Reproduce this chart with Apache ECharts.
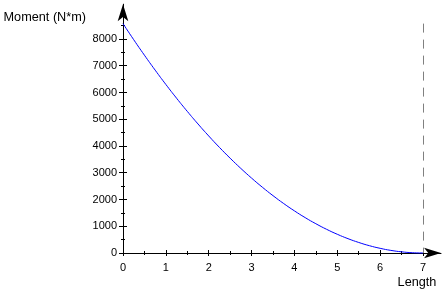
<!DOCTYPE html>
<html><head><meta charset="utf-8">
<script src="https://cdn.jsdelivr.net/npm/echarts@6/dist/echarts.min.js"></script>
<style>html,body{margin:0;padding:0;background:#fff;}#c{width:446px;height:295px;}</style>
</head><body><div id="c"></div>
<script>
const lengthValues = [0,0.25,0.5,0.75,1,1.25,1.5,1.75,2,2.25,2.5,2.75,3,3.25,3.5,3.75,4,4.25,4.5,4.75,5,5.25,5.5,5.75,6,6.25,6.5,6.75,7];
const momentValues = [8575,7973,7394,6836,6300,5786,5294,4823,4375,3948,3544,3161,2800,2461,2144,1848,1575,1323,1094,886,700,536,394,273,175,98,44,11,0];
const xTickLabels = [0,1,2,3,4,5,6,7];
const yTickLabels = [0,1000,2000,3000,4000,5000,6000,7000,8000];
const endMarkerX = 7;
const endMarkerTop = 8575;

const font = 'Arial, "Liberation Sans", sans-serif';
const black = '#000';
const chart = echarts.init(document.getElementById('c'));

function xAx(inside, main){
  return {
    type:'value', gridIndex:0, min:0, max:7.42, interval:1, position:'bottom',
    axisLine:{show:main, onZero:false, symbol:['none','arrow'], symbolSize:[8,17], lineStyle:{color:black,width:1}},
    axisTick:{show:true, inside:inside, length:3, customValues:xTickLabels, lineStyle:{color:black,width:1}},
    minorTick:{show:true, splitNumber:2, length:2, lineStyle:{color:black,width:1}},
    axisLabel:{show:main, customValues:xTickLabels, margin:9, color:black, fontFamily:font, fontSize:11, formatter:v=>String(v)},
    splitLine:{show:false},
    name: main ? 'Length' : '', nameLocation:'end', nameGap:-24,
    nameTextStyle:{color:black, fontFamily:font, fontSize:12.7, align:'center', verticalAlign:'top', padding:[23,0,0,0]}
  };
}
function yAx(inside, main){
  return {
    type:'value', gridIndex:0, min:0, max:9300, interval:1000, position:'left',
    axisLine:{show:main, onZero:false, symbol:['none','arrow'], symbolSize:[8,17], lineStyle:{color:black,width:1}},
    axisTick:{show:true, inside:inside, length:4, customValues:yTickLabels, lineStyle:{color:black,width:1}},
    minorTick:{show:true, splitNumber:2, length:2, lineStyle:{color:black,width:1}},
    axisLabel:{show:main, customValues:yTickLabels, margin:6, color:black, fontFamily:font, fontSize:11, formatter:v=>String(v)},
    splitLine:{show:false},
    name: main ? 'Moment (N*m)' : '', nameLocation:'end', nameGap:-13,
    nameTextStyle:{color:black, fontFamily:font, fontSize:12.7, align:'right', verticalAlign:'middle', padding:[0,37,0,0]}
  };
}

chart.setOption({
  animation:false,
  grid:{left:123, top:4.2, width:318, height:248.8},
  xAxis:[xAx(false,true), xAx(true,false)],
  yAxis:[yAx(false,true), yAx(true,false)],
  series:[{
    type:'line', xAxisIndex:0, yAxisIndex:0,
    data: lengthValues.map((x,i)=>[x, momentValues[i]]),
    smooth:true, symbol:'none', clip:false,
    lineStyle:{color:'#0000ff', width:1},
    markLine:{
      silent:true, symbol:['none','none'], label:{show:false},
      lineStyle:{color:'#808080', type:[9,7], width:1},
      data:[[{coord:[endMarkerX,endMarkerTop]},{coord:[endMarkerX,0]}]]
    }
  }]
});
</script></body></html>
